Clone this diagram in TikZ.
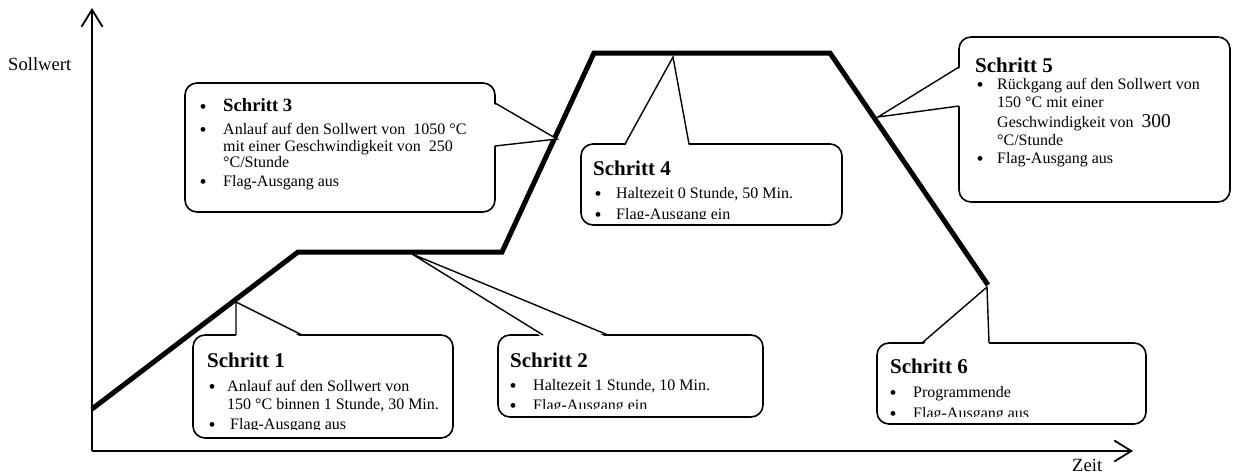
\documentclass[tikz,border=0pt]{standalone}
\usepackage{fontspec}
\setmainfont{Liberation Serif}
\usetikzlibrary{arrows.meta}
\begin{document}
\begin{tikzpicture}[x=1pt,y=-1pt,
  axisline/.style={line width=1.8pt,-{Straight Barb[length=17pt,width=21pt,line width=1.8pt]}},
  curve/.style={line width=5pt},
  box/.style={draw,line width=1.6pt,fill=white,rounded corners=12pt},
  ptr/.style={line width=1.4pt},
  hd/.style={font=\fontsize{21}{24}\selectfont\bfseries,anchor=base west,inner sep=0},
  hdsmall/.style={font=\fontsize{18.7}{22}\selectfont\bfseries,anchor=base west,inner sep=0},
  bd/.style={font=\fontsize{16}{18}\selectfont,anchor=base west,inner sep=0},
  bul/.style={font=\fontsize{20}{22}\selectfont,anchor=base,inner sep=0,yshift=-2.5pt},
  lab/.style={font=\fontsize{18.6}{22}\selectfont,anchor=base west,inner sep=0}]
\useasboundingbox (0,0) rectangle (1233,474);

% axes
\coordinate (O) at (92,451);
\coordinate (Ytop) at (92,8);
\coordinate (Xend) at (1133,451);
\draw[axisline] (O) -- (Ytop);
\draw[axisline] (O) -- (Xend);
\node[lab] (sollwert) at (8,70) {Sollwert};
\node[lab] (zeit) at (1072,471) {Zeit};

% profile
\coordinate (c0) at (92,409);
\coordinate (c1) at (298,252);
\coordinate (c2) at (502,252);
\coordinate (c3) at (594,53);
\coordinate (c4) at (830,53);
\coordinate (c5) at (988,285);
\draw[curve] (c0) -- (c1) -- (c2) -- (c3) -- (c4) -- (c5);

% boxes (corners)
\coordinate (b1nw) at (193,335); \coordinate (b1se) at (453,438);
\coordinate (b2nw) at (498,335); \coordinate (b2se) at (763,417);
\coordinate (b3nw) at (185,83);  \coordinate (b3se) at (495,212);
\coordinate (b4nw) at (581,144); \coordinate (b4se) at (842,225);
\coordinate (b5nw) at (959,37);  \coordinate (b5se) at (1230,202);
\coordinate (b6nw) at (877,343); \coordinate (b6se) at (1146,424);
\draw[box] (b1nw) rectangle (b1se);
\draw[box] (b2nw) rectangle (b2se);
\draw[box] (b3nw) rectangle (b3se);
\draw[box] (b4nw) rectangle (b4se);
\draw[box] (b5nw) rectangle (b5se);
\draw[box] (b6nw) rectangle (b6se);

% pointers
\coordinate (p1a) at (236,335); \coordinate (t1) at (236,302); \coordinate (p1b) at (302,335);
\coordinate (p2a) at (543,335); \coordinate (t2) at (412,254); \coordinate (p2b) at (608,335);
\coordinate (p3a) at (495,103); \coordinate (t3) at (557,139); \coordinate (p3b) at (495,146);
\coordinate (p4a) at (625,144); \coordinate (t4) at (673,57);  \coordinate (p4b) at (689,144);
\coordinate (p5a) at (959,67);  \coordinate (t5) at (878,117); \coordinate (p5b) at (959,106);
\coordinate (p6a) at (922,343); \coordinate (t6) at (987,287); \coordinate (p6b) at (989,343);

\fill[white] ([yshift=-2.5pt]p1a) -- (t1) -- ([yshift=-2.5pt]p1b) -- cycle;
\fill[white] ([yshift=-2.5pt]p2a) -- (t2) -- ([yshift=-2.5pt]p2b) -- cycle;
\fill[white] ([xshift=-2.5pt]p3a) -- (t3) -- ([xshift=-2.5pt]p3b) -- cycle;
\fill[white] ([yshift=-2.5pt]p4a) -- (t4) -- ([yshift=-2.5pt]p4b) -- cycle;
\fill[white] ([xshift=2.5pt]p5a) -- (t5) -- ([xshift=2.5pt]p5b) -- cycle;
\fill[white] ([yshift=-2.5pt]p6a) -- (t6) -- ([yshift=-2.5pt]p6b) -- cycle;
\draw[ptr] (p1a) -- (t1) -- (p1b);
\draw[ptr] (p2a) -- (t2) -- (p2b);
\draw[ptr] (p3a) -- (t3) -- (p3b);
\draw[ptr] (p4a) -- (t4) -- (p4b);
\draw[ptr] (p5a) -- (t5) -- (p5b);
\draw[ptr] (p6a) -- (t6) -- (p6b);

% texts box 1
\begin{scope}
\clip (195,337) rectangle (451,429.5);
\node[hd] (h1) at (207,367) {Schritt 1};
\node[bul] (u1a) at (212,391) {\textbullet};
\node[bd] (l1a) at (227,391) {Anlauf auf den Sollwert von};
\node[bd] (l1b) at (227,409) {150 °C binnen 1 Stunde, 30 Min.};
\node[bul] (u1b) at (212,429) {\textbullet};
\node[bd] (l1c) at (230,429) {Flag-Ausgang aus};
\end{scope}

% texts box 2
\begin{scope}
\clip (500,337) rectangle (761,408.5);
\node[hd] (h2) at (510,367) {Schritt 2};
\node[bul] (u2a) at (513,390) {\textbullet};
\node[bd] (l2a) at (533,390) {Haltezeit 1 Stunde, 10 Min.};
\node[bul] (u2b) at (513,410) {\textbullet};
\node[bd] (l2b) at (533,410) {Flag-Ausgang ein};
\end{scope}

% texts box 3
\node[bul] (u3h) at (203,111) {\textbullet};
\node[hdsmall] (h3) at (223,111) {Schritt 3};
\node[bul] (u3a) at (203,134) {\textbullet};
\node[bd] (l3a) at (223,134) {Anlauf auf den Sollwert von \ 1050 °C};
\node[bd] (l3b) at (223,151) {mit einer Geschwindigkeit von \ 250};
\node[bd] (l3c) at (223,167) {°C/Stunde};
\node[bul] (u3b) at (203,186) {\textbullet};
\node[bd] (l3d) at (223,186) {Flag-Ausgang aus};

% texts box 4
\begin{scope}
\clip (583,146) rectangle (840,218.5);
\node[hd] (h4) at (593,175) {Schritt 4};
\node[bul] (u4a) at (598,198) {\textbullet};
\node[bd] (l4a) at (616,198) {Haltezeit 0 Stunde, 50 Min.};
\node[bul] (u4b) at (598,219) {\textbullet};
\node[bd] (l4b) at (616,219) {Flag-Ausgang ein};
\end{scope}

% texts box 5
\node[hd] (h5) at (975,72) {Schritt 5};
\node[bul] (u5a) at (980,89) {\textbullet};
\node[bd] (l5a) at (997,89) {Rückgang auf den Sollwert von};
\node[bd] (l5b) at (997,107) {150 °C mit einer};
\node[bd] (l5c) at (997,127) {Geschwindigkeit von \ {\fontsize{19.5}{22}\selectfont 300}};
\node[bd] (l5d) at (997,145) {°C/Stunde};
\node[bul] (u5b) at (980,163) {\textbullet};
\node[bd] (l5e) at (997,163) {Flag-Ausgang aus};

% texts box 6
\begin{scope}
\clip (879,345) rectangle (1144,416.5);
\node[hd] (h6) at (890,373) {Schritt 6};
\node[bul] (u6a) at (893,397) {\textbullet};
\node[bd] (l6a) at (913,397) {Programmende};
\node[bul] (u6b) at (893,418) {\textbullet};
\node[bd] (l6b) at (913,418) {Flag-Ausgang aus};
\end{scope}
\end{tikzpicture}
\end{document}
